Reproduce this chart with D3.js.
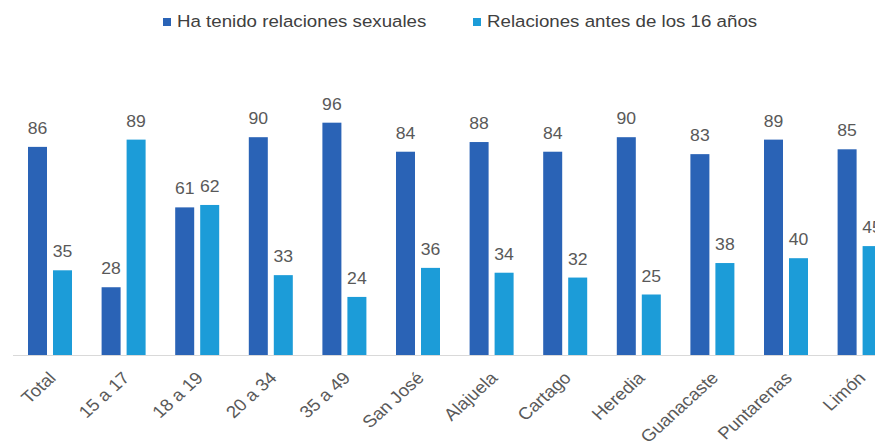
<!DOCTYPE html>
<html>
<head>
<meta charset="utf-8">
<script src="https://cdn.jsdelivr.net/npm/d3@7"></script>
<style>
  body { margin: 0; background: #fff; overflow: hidden; }
  text { font-family: "Liberation Sans", Arial, sans-serif; }
</style>
</head>
<body>
<script>
var categories = ["Total", "15 a 17", "18 a 19", "20 a 34", "35 a 49", "San José",
                  "Alajuela", "Cartago", "Heredia", "Guanacaste", "Puntarenas", "Limón"];
var seriesNames = ["Ha tenido relaciones sexuales", "Relaciones antes de los 16 años"];
var tenido = [86, 28, 61, 90, 96, 84, 88, 84, 90, 83, 89, 85];
var antes16 = [35, 89, 62, 33, 24, 36, 34, 32, 25, 38, 40, 45];
var colors = ["#2a63b6", "#1c9cd8"];

var width = 875, height = 447;
var baseY = 355, step = 73.6, firstCenter = 50;
var stretch = 1.1;   // the source text is a little wider than it is tall

var svg = d3.select("body").append("svg")
    .attr("width", width)
    .attr("height", height);

// chart runs past the right edge, like the source image
var x0 = d3.scaleBand()
    .domain(categories)
    .range([firstCenter - step / 2, firstCenter - step / 2 + step * categories.length])
    .padding(0);

var x1 = d3.scaleBand()
    .domain([0, 1])
    .range([14.8, 58.8])
    .paddingInner(0.24)
    .paddingOuter(0);

var y = d3.scaleLinear().domain([0, 100]).range([baseY, baseY - 242]);

var rows = categories.map(function(c, i) {
  return {cat: c, vals: [tenido[i], antes16[i]]};
});

// baseline
svg.append("line")
    .attr("x1", 13).attr("x2", width)
    .attr("y1", baseY + 0.5).attr("y2", baseY + 0.5)
    .style("stroke", "#d9d9d9")
    .style("stroke-width", 1);

var group = svg.selectAll(".grp")
    .data(rows)
  .enter().append("g")
    .attr("class", "grp")
    .attr("transform", function(d) { return "translate(" + x0(d.cat) + ",0)"; });

group.selectAll("rect")
    .data(function(d) { return d.vals; })
  .enter().append("rect")
    .attr("x", function(d, i) { return x1(i); })
    .attr("width", x1.bandwidth())
    .attr("y", function(d) { return y(d); })
    .attr("height", function(d) { return baseY - y(d); })
    .style("fill", function(d, i) { return colors[i]; });

group.selectAll(".val")
    .data(function(d) { return d.vals; })
  .enter().append("text")
    .attr("class", "val")
    .attr("transform", function(d, i) {
      return "translate(" + (x1(i) + x1.bandwidth() / 2) + "," + (y(d) - 13) + ") scale(" + stretch + ",1)";
    })
    .style("text-anchor", "middle")
    .style("font-size", "16px")
    .style("fill", "#595959")
    .text(function(d) { return d; });

// x axis labels, rotated
var xAxis = d3.axisBottom(x0).tickSize(0).tickPadding(0);
var axisG = svg.append("g")
    .attr("transform", "translate(0," + baseY + ")")
    .call(xAxis);
axisG.select(".domain").remove();
axisG.selectAll("text")
    .attr("x", 0).attr("y", 0).attr("dy", 0)
    .attr("transform", "translate(7,24) scale(" + stretch + ",1) rotate(-45)")
    .style("text-anchor", "end")
    .style("font-family", "'Liberation Sans', Arial, sans-serif")
    .style("font-size", "17px")
    .style("fill", "#595959");

// legend
var legendX = [163, 473];
var legend = svg.selectAll(".legend")
    .data(seriesNames)
  .enter().append("g")
    .attr("class", "legend")
    .attr("transform", function(d, i) { return "translate(" + legendX[i] + ",0)"; });

legend.append("rect")
    .attr("x", 0).attr("y", 18)
    .attr("width", 8).attr("height", 8)
    .style("fill", function(d, i) { return colors[i]; });

legend.append("text")
    .attr("transform", "translate(14,27) scale(" + stretch + ",1)")
    .style("font-size", "17px")
    .style("fill", "#404040")
    .text(function(d) { return d; });
</script>
</body>
</html>
